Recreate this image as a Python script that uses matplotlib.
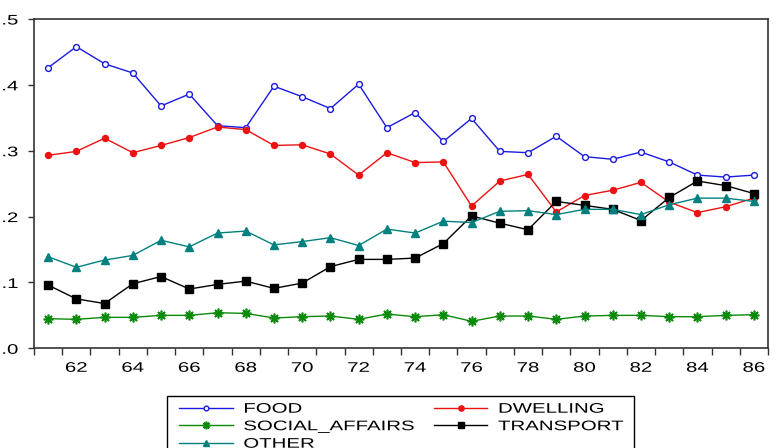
import matplotlib
matplotlib.use("Agg")
import matplotlib.pyplot as plt
from matplotlib.ticker import FixedLocator, FixedFormatter
from matplotlib.patheffects import AbstractPathEffect
from matplotlib.transforms import Affine2D
from matplotlib.lines import Line2D
from matplotlib.patches import Rectangle

plt.rcParams['font.family'] = ['Liberation Sans', 'DejaVu Sans']

years = list(range(1961, 1987))

food = [0.426, 0.458, 0.432, 0.418, 0.368, 0.386, 0.338, 0.335, 0.398, 0.382,
        0.364, 0.401, 0.335, 0.358, 0.314, 0.349, 0.299, 0.297, 0.322, 0.291,
        0.287, 0.298, 0.283, 0.263, 0.260, 0.263]
dwelling = [0.293, 0.299, 0.319, 0.297, 0.308, 0.320, 0.336, 0.332, 0.308, 0.309,
            0.295, 0.263, 0.297, 0.282, 0.283, 0.216, 0.254, 0.264, 0.207, 0.232,
            0.240, 0.252, 0.222, 0.206, 0.215, 0.228]
social_affairs = [0.045, 0.044, 0.047, 0.047, 0.050, 0.050, 0.054, 0.053, 0.046, 0.048,
                  0.049, 0.044, 0.052, 0.048, 0.051, 0.041, 0.049, 0.049, 0.044, 0.049,
                  0.050, 0.050, 0.048, 0.048, 0.050, 0.051]
transport = [0.096, 0.075, 0.068, 0.098, 0.109, 0.090, 0.097, 0.102, 0.091, 0.099,
             0.124, 0.135, 0.135, 0.137, 0.159, 0.201, 0.190, 0.180, 0.223, 0.217,
             0.211, 0.194, 0.229, 0.254, 0.247, 0.235]
other = [0.139, 0.123, 0.134, 0.141, 0.164, 0.154, 0.175, 0.178, 0.157, 0.162,
         0.168, 0.156, 0.181, 0.175, 0.193, 0.191, 0.208, 0.209, 0.203, 0.211,
         0.211, 0.203, 0.218, 0.228, 0.228, 0.223]

x_labels = ['62', '64', '66', '68', '70', '72', '74', '76', '78', '80', '82', '84', '86']
y_labels = ['.0', '.1', '.2', '.3', '.4', '.5']
legend_labels = ['FOOD', 'DWELLING', 'SOCIAL_AFFAIRS', 'TRANSPORT', 'OTHER']


class HStretch(AbstractPathEffect):
    """Stretch glyph outlines horizontally (the reference font is wide)."""
    def __init__(self, sx, anchor='left'):
        super().__init__()
        self.sx = sx
        self.anchor = anchor

    def draw_path(self, renderer, gc, tpath, affine, rgbFace=None):
        ext = tpath.get_extents()
        if self.anchor == 'center':
            cx = (ext.x0 + ext.x1) / 2
        elif self.anchor == 'right':
            cx = ext.x1
        else:
            cx = 0
        t = Affine2D().translate(-cx, 0).scale(self.sx, 1).translate(cx, 0) + affine
        renderer.draw_path(gc, tpath, t, rgbFace)


SX = 1.47
W, H = 776, 448
fig = plt.figure(figsize=(W / 100, H / 100), dpi=100)
ax = fig.add_axes([34 / W, 1 - 348.3 / H, (768 - 34) / W, (348.3 - 19) / H])

lw = 1.0
styles = {
    'FOOD': dict(color='#1a1ae0', marker='o', ms=4.2, mfc='white', mec='#1a1ae0', mew=1.0),
    'DWELLING': dict(color='#ee1111', marker='o', ms=4.3, mfc='#ee1111', mec='#ee1111'),
    'SOCIAL_AFFAIRS': dict(color='#0a8a0a', marker=(8, 2, 0), ms=7, mec='#0a8a0a', mew=1.2),
    'TRANSPORT': dict(color='black', marker='s', ms=5.5, mfc='black', mec='black'),
    'OTHER': dict(color='#00807e', marker='^', ms=6, mfc='#00807e', mec='#00807e'),
}
series = {'FOOD': food, 'DWELLING': dwelling, 'SOCIAL_AFFAIRS': social_affairs,
          'TRANSPORT': transport, 'OTHER': other}
for name in ['FOOD', 'DWELLING', 'SOCIAL_AFFAIRS', 'TRANSPORT', 'OTHER']:
    ax.plot(years, series[name], lw=lw, label=name, **styles[name])

ax.set_xlim(1960.5, 1986.5)
ax.set_ylim(0, 0.5)

major_x = [int('19' + s) for s in x_labels]
ax.xaxis.set_major_locator(FixedLocator(major_x))
ax.xaxis.set_major_formatter(FixedFormatter(x_labels))
ax.xaxis.set_minor_locator(FixedLocator([y + 0.5 for y in range(1960, 1987)]))
ax.tick_params(axis='x', which='major', length=0, pad=9, labelsize=10)
ax.tick_params(axis='x', which='minor', length=5, width=1, direction='out', color='#333333')

ax.yaxis.set_major_locator(FixedLocator([0, 0.1, 0.2, 0.3, 0.4, 0.5]))
ax.yaxis.set_major_formatter(FixedFormatter(y_labels))
ax.tick_params(axis='y', length=4, width=1, direction='out', pad=7.5, labelsize=10, color='#333333')

for t in ax.xaxis.get_major_ticks():
    t.label1.set_path_effects([HStretch(SX, 'center')])
for t in ax.yaxis.get_major_ticks():
    t.label1.set_path_effects([HStretch(SX, 'right')])

for s in ax.spines.values():
    s.set_linewidth(1.2)
    s.set_color('#333333')

# legend box (drawn in figure pixel coordinates, below the plot)
def fx(px):
    return px / W

def fy(py):
    return 1 - py / H

fig.add_artist(Rectangle((fx(167.3), fy(470)), fx(634) - fx(167.3), fy(395.7) - fy(470),
                         transform=fig.transFigure, fill=False, edgecolor='black', lw=1.0))
col_x = [179.3, 434.0]
row_y = [407.5, 425.0, 442.5]
positions = {'FOOD': (0, 0), 'DWELLING': (1, 0), 'SOCIAL_AFFAIRS': (0, 1),
             'TRANSPORT': (1, 1), 'OTHER': (0, 2)}
leg_ms = {'FOOD': 3.4, 'DWELLING': 3.8, 'SOCIAL_AFFAIRS': 5.5, 'TRANSPORT': 4.5, 'OTHER': 5.0}
for name in legend_labels:
    c, r = positions[name]
    x0 = col_x[c]
    y = row_y[r]
    st = dict(styles[name])
    st['ms'] = leg_ms[name]
    fig.add_artist(Line2D([fx(x0), fx(x0 + 53.4)], [fy(y), fy(y)], transform=fig.transFigure,
                          lw=lw, color=st.pop('color'), marker='None'))
    fig.add_artist(Line2D([fx(x0 + 26.7)], [fy(y)], transform=fig.transFigure,
                          ls='None', **{k: v for k, v in st.items()}))
    txt = fig.text(fx(x0 + 64), fy(y + 5.2), name, fontsize=10, ha='left', va='baseline')
    txt.set_path_effects([HStretch(SX, 'left')])

fig.savefig('out.png', dpi=100)
